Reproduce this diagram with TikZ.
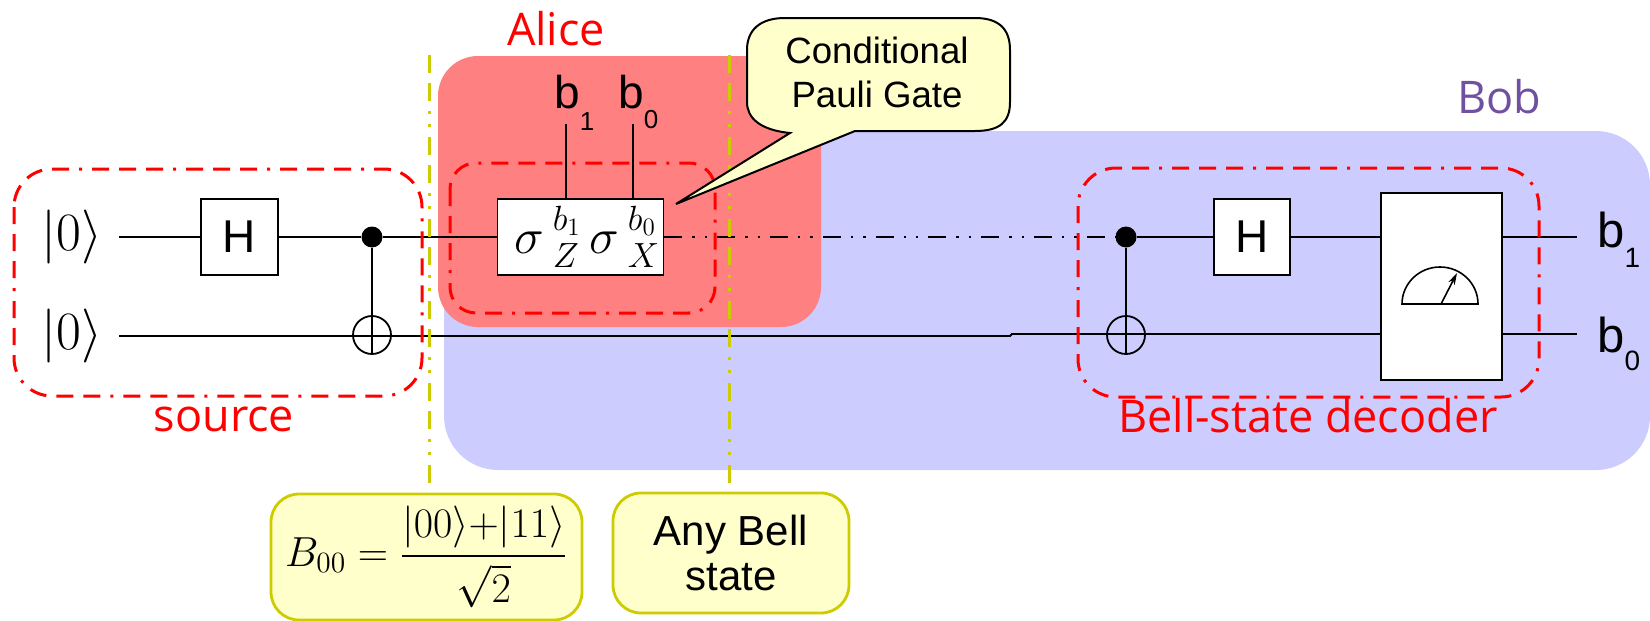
\documentclass[tikz,border=0pt]{standalone}
\usepackage{fix-cm}
\usepackage{amsmath}
\usepackage[no-math]{fontspec}
\setmainfont{Liberation Sans}
\newfontfamily\tagfont{Open Sans}
\usetikzlibrary{arrows.meta}
\definecolor{alicered}{HTML}{FF8080}
\definecolor{bobblue}{HTML}{CCCCFF}
\definecolor{noteyellow}{HTML}{FFFFCC}
\definecolor{lineyellow}{HTML}{CCCC00}
\definecolor{bobpurple}{HTML}{7050A0}
\newcommand{\bitlabel}[4]{\fontsize{#1}{#1}\selectfont b\raisebox{-#4pt}{\fontsize{#2}{#2}\selectfont #3}}
\tikzset{
  wire/.style={line width=0.9pt},
  phasewire/.style={line width=0.8pt,dash pattern=on 9pt off 5pt on 1.2pt off 5pt on 1.2pt off 5pt},
  gatebox/.style={draw,fill=white,line width=0.9pt,inner sep=0pt},
  groupbox/.style={draw=red,line width=1.5pt,rounded corners=19pt,dash pattern=on 8.5pt off 5pt on 8.5pt off 5pt on 8.5pt off 5pt on 1.5pt off 5pt},
  cutline/.style={draw=lineyellow,line width=1.5pt,dash pattern=on 9pt off 5pt on 9pt off 5pt on 1.5pt off 5pt on 1.5pt off 5pt},
  statebox/.style={draw=lineyellow,fill=noteyellow,line width=1.4pt,rounded corners=14pt,inner sep=0pt,align=center},
  tagtext/.style={inner sep=0pt,anchor=base,font=\tagfont\fontsize{22.5}{24}\selectfont},
  bittext/.style={inner sep=0pt,anchor=base west},
  ketnode/.style={inner sep=0pt,font=\fontsize{27}{30}\selectfont},
  ctrldot/.style={circle,fill=black,inner sep=0pt,minimum size=10.5pt},
  targetnode/.style={circle,draw,line width=0.9pt,inner sep=0pt,minimum size=19pt}
}
\begin{document}
\begin{tikzpicture}[x=0.5pt,y=-0.5pt]
\useasboundingbox (0,0) rectangle (1650,621);

% regions
\fill[bobblue,rounded corners=27pt] (444,131) rectangle (1650,470);
\fill[alicered,rounded corners=20pt] (438,56) rectangle (821,327);

% gates
\node (ketA) at (72,237) [ketnode] {$|0\rangle$};
\node (ketB) at (72,336) [ketnode] {$|0\rangle$};
\node (hadA) at (239.5,237) [gatebox,minimum width=38.5pt,minimum height=38pt,font=\fontsize{23}{24}\selectfont] {H};
\node (ctrlA) at (372,237) [ctrldot] {};
\node (targetA) at (372,335) [targetnode] {};
\node (pauli) at (580.5,237) [gatebox,minimum width=83pt,minimum height=38pt,font=\fontsize{25}{28}\selectfont] {\hspace*{7pt}$\sigma\,{}^{b_1}_{Z}\,\sigma\,{}^{b_0}_{X}$};
\node (ctrlB) at (1126,237) [ctrldot] {};
\node (targetB) at (1126,335) [targetnode] {};
\node (hadB) at (1252,237) [gatebox,minimum width=38pt,minimum height=38pt,font=\fontsize{23}{24}\selectfont] {H};
\node (meter) at (1441.5,286.5) [gatebox,minimum width=60.5pt,minimum height=93.5pt] {};

% free wire ends
\coordinate (startA) at (119,237);
\coordinate (startB) at (119,336);
\coordinate (jogL) at (1010,336);
\coordinate (jogR) at (1012,334);
\coordinate (endA) at (1577,237);
\coordinate (endB) at (1577,334);
\coordinate (bitA) at (566,124);
\coordinate (bitB) at (633,124);

% wires
\draw[wire] (startA) -- (hadA);
\draw[wire] (hadA) -- (ctrlA);
\draw[wire] (ctrlA) -- (pauli);
\draw[phasewire] (pauli.east) -- (ctrlB);
\draw[wire] (ctrlB) -- (hadB);
\draw[wire] (hadB.east) -- (meter.west |- hadB.east);
\draw[wire] (meter.east |- hadB.east) -- (endA);
\draw[wire] (startB) -- (jogL) -- (jogR) -- (meter.west |- jogR);
\draw[wire] (meter.east |- jogR) -- (endB);
\draw[wire] (ctrlA) -- (targetA.south);
\draw[wire] (ctrlB) -- (targetB.south);
\draw[wire] (bitA) -- (bitA |- pauli.north);
\draw[wire] (bitB) -- (bitB |- pauli.north);

% meter dial
\coordinate (dialL) at (1402,304);
\coordinate (dialC) at (1441,304);
\coordinate (dialT) at (1457,273);
\draw[line width=0.8pt] (dialL) arc[start angle=180,end angle=0,x radius=19pt,y radius=18.5pt] -- cycle;
\draw[line width=0.8pt,-{Stealth[length=6pt,width=3.5pt]}] (dialC) -- (dialT);

% dashed groups
\draw[groupbox] (14,169) rectangle (422,396);
\draw[groupbox,rounded corners=13pt] (450,163) rectangle (715,313);
\draw[groupbox] (1078,168) rectangle (1539,397);

% state notes
\node (bellstate) at (426.5,557) [statebox,minimum width=155.5pt,minimum height=63pt,font=\fontsize{21}{23}\selectfont] {$\displaystyle B_{00}=\genfrac{}{}{1.2pt}{}{|00\rangle{+}|11\rangle}{\sqrt{2}}$};
\node (anystate) at (731,553) [statebox,minimum width=118pt,minimum height=60pt,font=\fontsize{21}{22.5}\selectfont] {Any Bell\\state};
\coordinate (cutA) at (429,55);
\coordinate (cutB) at (729,55);
\draw[cutline] (cutA) -- (cutA |- bellstate.north);
\draw[cutline] (cutB) -- (cutB |- anystate.north);

% callout
\filldraw[fill=noteyellow,draw=black,line width=1pt] (747,50) .. controls (747,30) and (760,18) .. (785,18) -- (975,18) .. controls (1000,18) and (1010,30) .. (1010,50) -- (1010,102) .. controls (1010,122) and (1000,131) .. (975,131) -- (855,131) -- (676,204) -- (790,133) .. controls (760,130) and (747,118) .. (747,102) -- cycle;
\node (paulinote) at (877,72) [inner sep=0pt,align=center,font=\fontsize{18.3}{22}\selectfont] {Conditional\\Pauli Gate};

% text labels
\node (alice) at (556,46) [tagtext,text=red] {Alice};
\node (bob) at (1499,113) [tagtext,text=bobpurple] {Bob};
\node (source) at (224,431) [tagtext,text=red] {source};
\node (decoder) at (1308,432) [tagtext,text=red] {Bell-state decoder};
\node (topA) at (554,108) [bittext] {\bitlabel{23}{13}{1}{11}};
\node (topB) at (618,108) [bittext] {\bitlabel{23}{13}{0}{10}};
\node (outA) at (1597,247) [bittext] {\bitlabel{24.5}{14}{1}{10}};
\node (outB) at (1597,352) [bittext] {\bitlabel{24.5}{14}{0}{9}};
\end{tikzpicture}
\end{document}
